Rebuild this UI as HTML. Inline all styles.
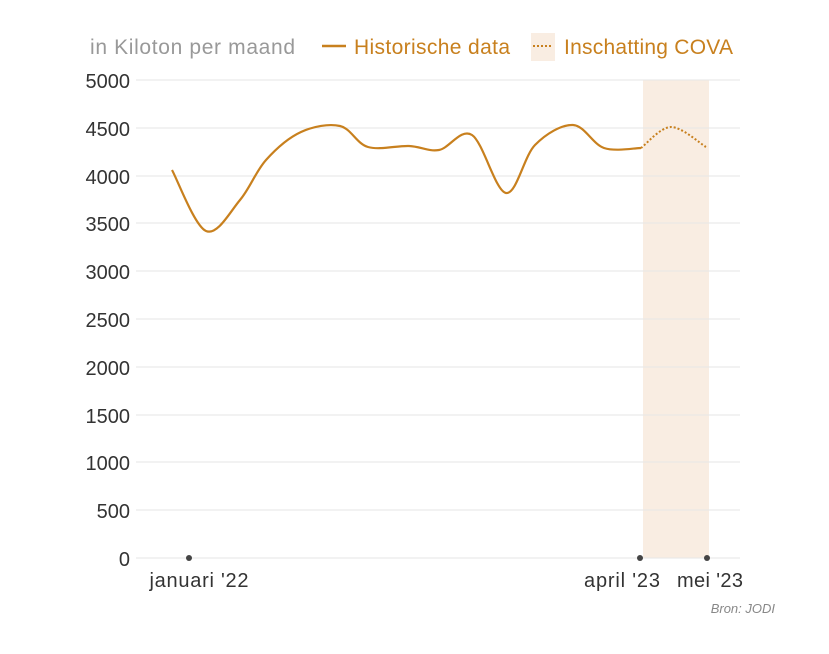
<!DOCTYPE html>
<html><head><style>
body{margin:0;background:#fff;}
svg{display:block;font-family:"Liberation Sans",sans-serif;}
</style></head><body>
<svg width="829" height="654" viewBox="0 0 829 654">
<rect x="643" y="80" width="66" height="478" fill="#f9ede2"/>
<g stroke="#e6e6e6" stroke-width="1">
<line x1="136" x2="740" y1="80" y2="80"/><line x1="136" x2="740" y1="128" y2="128"/>
<line x1="136" x2="740" y1="176" y2="176"/><line x1="136" x2="740" y1="223" y2="223"/>
<line x1="136" x2="740" y1="271" y2="271"/><line x1="136" x2="740" y1="319" y2="319"/>
<line x1="136" x2="740" y1="367" y2="367"/><line x1="136" x2="740" y1="415" y2="415"/>
<line x1="136" x2="740" y1="462" y2="462"/><line x1="136" x2="740" y1="510" y2="510"/>
<line x1="136" x2="740" y1="558" y2="558"/>
</g>
<g fill="#333" font-size="20" text-anchor="end">
<text x="130" y="88">5000</text><text x="130" y="136">4500</text><text x="130" y="184">4000</text>
<text x="130" y="231">3500</text><text x="130" y="279">3000</text><text x="130" y="327">2500</text>
<text x="130" y="375">2000</text><text x="130" y="423">1500</text><text x="130" y="470">1000</text>
<text x="130" y="518">500</text><text x="130" y="566">0</text>
</g>
<g fill="#444"><circle cx="189" cy="558" r="3"/><circle cx="640" cy="558" r="3"/><circle cx="707" cy="558" r="3"/></g>
<g fill="#333" font-size="20" text-anchor="middle">
<text x="199" y="587" textLength="99">januari '22</text><text x="622" y="587" textLength="76">april '23</text><text x="710" y="587" textLength="66">mei '23</text>
</g>
<text x="775" y="613" text-anchor="end" font-size="13" font-style="italic" fill="#888">Bron: JODI</text>
<text x="90" y="54" font-size="21" fill="#999" textLength="205">in Kiloton per maand</text>
<line x1="322" x2="346" y1="46" y2="46" stroke="#c8801e" stroke-width="2.5"/>
<text x="354" y="54" font-size="21" fill="#c8801e" textLength="156">Historische data</text>
<rect x="531" y="33" width="24" height="28" fill="#f9ede2"/>
<line x1="533" x2="553" y1="46" y2="46" stroke="#c8801e" stroke-width="2" stroke-dasharray="2,2"/>
<text x="564" y="54" font-size="21" fill="#c8801e" textLength="169">Inschatting COVA</text>
<path id="hist" fill="none" stroke="#c8801e" stroke-width="2.2"/>
<path id="fc" fill="none" stroke="#c8801e" stroke-width="2" stroke-dasharray="2,2"/>
</svg>
<script>
function cr(p){let d="M"+p[0][0]+","+p[0][1];for(let i=0;i<p.length-1;i++){const a=p[Math.max(0,i-1)],b=p[i],c=p[i+1],e=p[Math.min(p.length-1,i+2)];const t=6;d+=" C"+(b[0]+(c[0]-a[0])/t)+","+(b[1]+(c[1]-a[1])/t)+" "+(c[0]-(e[0]-b[0])/t)+","+(c[1]-(e[1]-b[1])/t)+" "+c[0]+","+c[1];}return d;}
const h=[[172,170],[206,231],[240,200],[266,160],[301,132],[340,126],[368,147],[409,146],[439,150],[472,135],[506,193],[535,145],[573,125],[604,148],[641,148]];
document.getElementById("hist").setAttribute("d",cr(h));
document.getElementById("fc").setAttribute("d",cr([[641,148],[671,127],[706,147]]));
</script>
</body></html>
